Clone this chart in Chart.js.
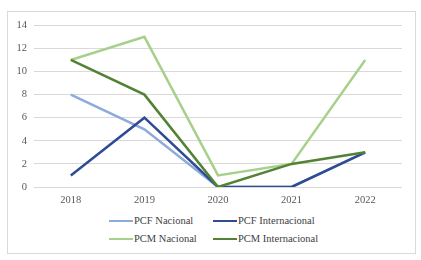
<!DOCTYPE html>
<html>
<head>
<meta charset="utf-8">
<script src="https://cdn.jsdelivr.net/npm/chart.js@4"></script>
<style>
  body { margin: 0; background: #fff; width: 421px; height: 260px; position: relative; overflow: hidden; }
  #frame { position: absolute; left: 7px; top: 11px; width: 407px; height: 241px; border: 1px solid #d9d9d9; }
  #wrap { position: absolute; left: 8px; top: 12px; width: 406px; height: 200px; }
  #legend { position: absolute; left: 109px; top: 214px; display: grid; grid-template-columns: 104px 120px; row-gap: 5px;
            font: 10.5px "Liberation Serif", "Times New Roman", Tinos, serif; color: #404040; }
  .item { display: flex; align-items: center; height: 13px; white-space: nowrap; }
  .swatch { width: 24px; height: 0; border-top: 2.5px solid; margin-right: 1px; }
</style>
</head>
<body>
<div id="frame"></div>
<div id="wrap"><canvas id="chart"></canvas></div>
<div id="legend"></div>
<script>
// datos
const years = ["2018", "2019", "2020", "2021", "2022"];
const pcfNacional = [8, 5, 0, 0, 3];
const pcfInternacional = [1, 6, 0, 0, 3];
const pcmNacional = [11, 13, 1, 2, 11];
const pcmInternacional = [11, 8, 0, 2, 3];

const series = [
    { label: "PCF Nacional", data: pcfNacional, color: "#8eaadb", order: 4 },
    { label: "PCF Internacional", data: pcfInternacional, color: "#2f4b96", order: 3 },
    { label: "PCM Nacional", data: pcmNacional, color: "#a8d08d", order: 2 },
    { label: "PCM Internacional", data: pcmInternacional, color: "#528233", order: 1 }
];

const tickFont = { family: "'Liberation Serif', 'Times New Roman', Tinos, serif", size: 10.5 };

new Chart(document.getElementById("chart"), {
    type: "line",
    data: {
        labels: years,
        datasets: series.map(s => ({
            label: s.label,
            data: s.data,
            borderColor: s.color,
            backgroundColor: s.color,
            borderWidth: 2.5,
            pointRadius: 0,
            tension: 0,
            order: s.order
        }))
    },
    options: {
        responsive: true,
        maintainAspectRatio: false,
        animation: false,
        layout: { padding: { top: 11, right: 12, bottom: 0, left: 0 } },
        plugins: { legend: { display: false }, tooltip: { enabled: false } },
        scales: {
            x: {
                offset: true,
                grid: { display: false, drawTicks: false },
                border: { display: false },
                ticks: { color: "#595959", font: tickFont, padding: 7, maxRotation: 0 },
                afterFit: (scale) => { scale.height = 25; }
            },
            y: {
                min: 0,
                max: 14,
                grid: { color: "#d9d9d9", drawTicks: false },
                border: { display: false },
                ticks: { stepSize: 2, color: "#595959", font: tickFont, padding: 7 },
                afterFit: (scale) => { scale.width = 26; }
            }
        }
    }
});

// leyenda en dos filas como en el original
const legendDiv = document.getElementById("legend");
series.forEach(s => {
    const item = document.createElement("div");
    item.className = "item";
    item.innerHTML = `<span class="swatch" style="border-color:${s.color}"></span>${s.label}`;
    legendDiv.appendChild(item);
});
</script>
</body>
</html>
